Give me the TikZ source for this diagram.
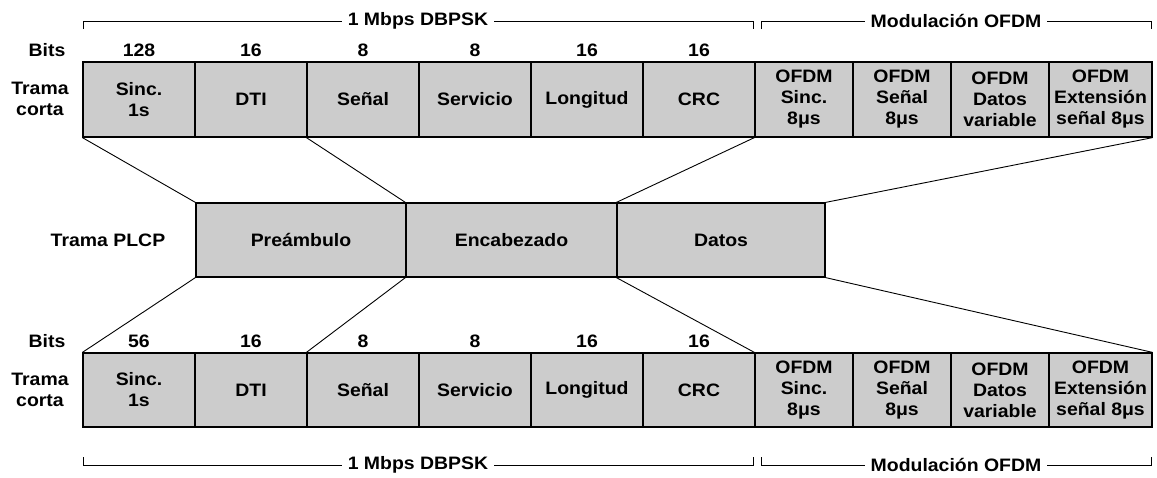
\documentclass[tikz,border=0pt]{standalone}
\usepackage{fontspec}
\setmainfont{Liberation Sans}[FakeStretch=1.08]
\definecolor{boxgray}{HTML}{CCCCCC}
\begin{document}
\begin{tikzpicture}[x=1pt,y=-1pt,
  font=\fontsize{18}{21}\selectfont\bfseries,
  cell/.style={draw, line width=1.2pt, fill=boxgray, inner sep=1pt, align=center},
  wide/.style={cell, minimum width=112pt, minimum height=75pt},
  ofdm/.style={cell, minimum height=75pt},
  lbl/.style={inner sep=1pt, align=center},
  link/.style={line width=0.9pt},
  brk/.style={line width=0.9pt},
  brktext/.style={fill=white, inner xsep=6pt, inner ysep=2pt}]
\useasboundingbox (0,0) rectangle (1157,477);

% ---- upper short frame ----
\node[lbl] (bitsT) at (47,50) {Bits};
\node[lbl] (tramaT) at (40,99) {Trama\\corta};
\node[wide] (t1) at (139,99.5) {Sinc.\\1s};
\node[wide] (t2) at (251,99.5) {DTI};
\node[wide] (t3) at (363,99.5) {Señal};
\node[wide] (t4) at (475,99.5) {Servicio};
\node[wide] (t5) at (587,99.5) {Longitud};
\node[wide] (t6) at (699,99.5) {CRC};
\node[ofdm, minimum width=98pt] (t7) at (804,99.5) {OFDM\\Sinc.\\8μs};
\node[ofdm, minimum width=98pt] (t8) at (902,99.5) {OFDM\\Señal\\8μs};
\node[ofdm, minimum width=98pt] (t9) at (1000,99.5) {OFDM\\Datos\\variable};
\node[ofdm, minimum width=103pt] (t10) at (1100.5,99.5) {OFDM\\Extensión\\señal 8μs};
\foreach \n/\x/\v in {1/139/128, 2/251/16, 3/363/8, 4/475/8, 5/587/16, 6/699/16}
  \node[lbl] (nt\n) at (\x,50) {\v};

% ---- PLCP frame ----
\node[lbl] (plcp) at (108,240) {Trama PLCP};
\node[cell, minimum width=210pt, minimum height=74pt] (p1) at (301,240) {Preámbulo};
\node[cell, minimum width=211pt, minimum height=74pt] (p2) at (511.5,240) {Encabezado};
\node[cell, minimum width=208pt, minimum height=74pt] (p3) at (721,240) {Datos};

% ---- lower short frame ----
\node[lbl] (bitsB) at (47,341) {Bits};
\node[lbl] (tramaB) at (40,390) {Trama\\corta};
\node[wide, minimum height=74pt] (b1) at (139,390) {Sinc.\\1s};
\node[wide, minimum height=74pt] (b2) at (251,390) {DTI};
\node[wide, minimum height=74pt] (b3) at (363,390) {Señal};
\node[wide, minimum height=74pt] (b4) at (475,390) {Servicio};
\node[wide, minimum height=74pt] (b5) at (587,390) {Longitud};
\node[wide, minimum height=74pt] (b6) at (699,390) {CRC};
\node[cell, minimum height=74pt, minimum width=98pt] (b7) at (804,390) {OFDM\\Sinc.\\8μs};
\node[cell, minimum height=74pt, minimum width=98pt] (b8) at (902,390) {OFDM\\Señal\\8μs};
\node[cell, minimum height=74pt, minimum width=98pt] (b9) at (1000,390) {OFDM\\Datos\\variable};
\node[cell, minimum height=74pt, minimum width=103pt] (b10) at (1100.5,390) {OFDM\\Extensión\\señal 8μs};
\foreach \n/\x/\v in {1/139/56, 2/251/16, 3/363/8, 4/475/8, 5/587/16, 6/699/16}
  \node[lbl] (nb\n) at (\x,341) {\v};

% ---- fan-out lines between frames ----
\draw[link] (t1.south west) -- (p1.north west);
\draw[link] (t3.south west) -- (p2.north west);
\draw[link] (t7.south west) -- (p3.north west);
\draw[link] (t10.south east) -- (p3.north east);
\draw[link] (p1.south west) -- (b1.north west);
\draw[link] (p2.south west) -- (b3.north west);
\draw[link] (p3.south west) -- (b7.north west);
\draw[link] (p3.south east) -- (b10.north east);

% ---- modulation brackets ----
\coordinate (ta1) at (83,29);  \coordinate (ta2) at (753,29);
\coordinate (tb1) at (761,29); \coordinate (tb2) at (1151,29);
\coordinate (ba1) at (83,457); \coordinate (ba2) at (753,457);
\coordinate (bb1) at (761,457); \coordinate (bb2) at (1151,457);
\draw[brk] (ta1) -- ++(0,-8) -| (ta2) node[pos=0.25, brktext] (mt1) {1 Mbps DBPSK};
\draw[brk] (tb1) -- ++(0,-8) -| (tb2) node[pos=0.25, brktext] (mt2) {Modulación OFDM};
\draw[brk] (ba1) -- ++(0,8) -| (ba2) node[pos=0.25, brktext] (mb1) {1 Mbps DBPSK};
\draw[brk] (bb1) -- ++(0,8) -| (bb2) node[pos=0.25, brktext] (mb2) {Modulación OFDM};
\end{tikzpicture}
\end{document}
